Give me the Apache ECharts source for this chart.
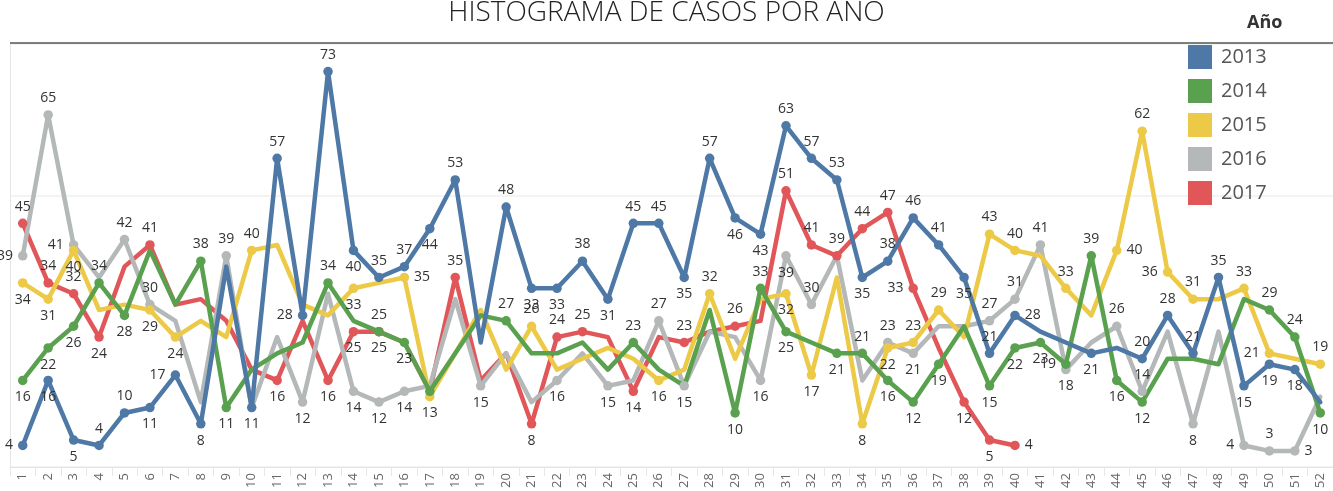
<!DOCTYPE html>
<html>
<head>
<meta charset="utf-8">
<script src="https://cdn.jsdelivr.net/npm/echarts@6/dist/echarts.min.js"></script>
<style>
  html, body { margin: 0; padding: 0; background: #fff; }
  #chart { width: 1333px; height: 491px; }
</style>
</head>
<body>
<div id="chart"></div>
<script>
// Semanas epidemiológicas (eje X)
const weeks = ['1','2','3','4','5','6','7','8','9','10','11','12','13','14','15','16','17','18','19','20',
  '21','22','23','24','25','26','27','28','29','30','31','32','33','34','35','36','37','38','39','40',
  '41','42','43','44','45','46','47','48','49','50','51','52'];

const years = ['2013', '2014', '2015', '2016', '2017'];

// Casos por semana y año
const cases2013 = [4,16,5,4,10,11,17,8,37,11,57,28,73,40,35,37,44,53,23,48,33,33,38,31,45,45,35,57,46,43,63,57,53,35,38,46,41,35,21,28,25,23,21,22,20,28,21,35,15,19,18,12];
const cases2014 = [16,22,26,34,28,40,30,38,11,18,21,23,34,27,25,23,14,21,28,27,21,21,23,18,23,18,15,29,10,33,25,23,21,21,16,12,19,26,15,22,23,19,39,16,12,20,20,19,31,29,24,10];
const cases2015 = [34,31,40,29,30,29,24,27,24,40,41,30,28,33,34,35,13,21,29,18,26,18,20,22,20,16,18,32,20,31,32,17,35,8,22,23,29,24,43,40,39,33,28,40,62,36,31,31,33,21,20,19];
const cases2016 = [39,65,41,35,42,30,27,12,39,11,24,12,32,14,12,14,15,31,15,21,12,16,21,15,16,27,15,25,24,16,39,30,39,16,23,21,26,26,27,31,41,18,23,26,14,25,8,25,4,3,3,13];
const cases2017 = [45,34,32,24,37,41,30,31,27,18,16,27,16,25,25,23,14,35,16,21,8,24,25,24,14,24,23,25,26,27,51,41,39,44,47,33,22,12,5,4,null,null,null,null,null,null,null,null,null,null,null,null];

// Semanas etiquetadas y lado de la etiqueta: t arriba, b abajo, l izquierda, r derecha, n solo marcador
const labeled2013 = {1:'l',2:'b',3:'b',4:'t',5:'t',6:'b',7:'l',8:'b',10:'b',11:'t',12:'l',13:'t',14:'b',15:'t',16:'t',17:'b',18:'t',20:'t',21:'b',22:'b',23:'t',24:'b',25:'t',26:'t',27:'b',28:'t',29:'b',30:'b',31:'t',32:'t',33:'t',34:'b',35:'t',36:'t',37:'t',38:'b',39:'t',40:'r',43:'b',45:'t',46:'t',47:'t',48:'t',49:'b',50:'b',51:'b'};
const labeled2014 = {1:'b',2:'b',3:'b',4:'t',5:'b',8:'t',9:'b',13:'t',15:'t',16:'b',17:'n',20:'t',25:'t',29:'b',30:'t',31:'b',33:'b',34:'t',35:'b',36:'b',37:'b',39:'b',40:'b',41:'b',42:'l',43:'t',44:'b',45:'b',50:'t',51:'t',52:'b'};
const labeled2015 = {1:'b',2:'b',3:'b',6:'b',7:'b',10:'t',14:'b',16:'r',17:'b',21:'t',26:'b',28:'t',31:'b',32:'b',34:'b',35:'b',36:'t',37:'t',39:'t',40:'t',42:'t',44:'r',45:'t',46:'l',47:'t',49:'t',50:'l',52:'t'};
const labeled2016 = {1:'l',2:'t',3:'l',5:'t',6:'t',9:'t',12:'b',14:'b',15:'b',16:'b',19:'b',22:'b',24:'b',26:'t',27:'b',30:'b',31:'b',32:'t',35:'t',36:'b',39:'t',40:'t',41:'t',42:'b',44:'t',45:'t',47:'b',49:'l',50:'t',51:'r'};
const labeled2017 = {1:'t',2:'t',3:'t',4:'b',6:'t',11:'b',13:'b',14:'b',15:'b',18:'t',21:'b',22:'t',23:'t',25:'b',27:'t',29:'t',31:'t',32:'t',33:'t',34:'t',35:'t',36:'l',38:'b',39:'b',40:'r'};

const colors = {
  '2013': '#4e79a7',
  '2014': '#59a14f',
  '2015': '#edc948',
  '2016': '#b5b8b8',
  '2017': '#e15759'
};

const sideMap = { t: 'top', b: 'bottom', l: 'left', r: 'right' };

function buildPoints(values, labeled) {
  return values.map(function (v, i) {
    if (v === null) return null;
    const side = labeled[i + 1];
    if (!side) return { value: v, symbol: 'none' };
    if (side === 'n') return { value: v, label: { show: false } };
    return { value: v, label: { show: true, position: sideMap[side] } };
  });
}

function lineSeries(name, values, labeled) {
  return {
    name: name,
    type: 'line',
    data: buildPoints(values, labeled),
    symbol: 'circle',
    symbolSize: 9.5,
    showSymbol: true,
    showAllSymbol: true,
    connectNulls: false,
    lineStyle: { width: 4.5, color: colors[name], join: 'round', cap: 'round' },
    itemStyle: { color: colors[name], borderWidth: 0 },
    label: {
      show: false,
      formatter: '{c}',
      distance: 5,
      fontFamily: 'Open Sans',
      fontSize: 14,
      color: '#333'
    },
    emphasis: { disabled: true }
  };
}

const chart = echarts.init(document.getElementById('chart'), null, { renderer: 'canvas' });

chart.setOption({
  animation: false,
  backgroundColor: '#ffffff',
  grid: { left: 10, top: 43.4, width: 1333, height: 425, containLabel: false },
  xAxis: {
    type: 'category',
    data: weeks,
    boundaryGap: true,
    axisLine: { show: true, lineStyle: { color: '#e3e3e3', width: 1 } },
    axisTick: { show: true, interval: 0, length: 9, lineStyle: { color: '#e8e8e8' } },
    axisLabel: {
      interval: 0,
      rotate: 90,
      margin: 6,
      fontFamily: 'Open Sans',
      fontSize: 13,
      color: '#666'
    },
    splitLine: { show: false }
  },
  yAxis: {
    type: 'value',
    min: 0,
    max: 78.2,
    interval: 50,
    axisLine: { show: true, lineStyle: { color: '#e6e6e6' } },
    axisTick: { show: false },
    axisLabel: { show: false },
    splitLine: { show: true, lineStyle: { color: '#efefef', width: 1.5 } }
  },
  legend: {
    data: years,
    orient: 'vertical',
    left: 1183,
    top: 40,
    icon: 'rect',
    itemWidth: 24,
    itemHeight: 24,
    itemGap: 10,
    selectedMode: false,
    itemStyle: { borderWidth: 0 },
    textStyle: { fontFamily: 'Open Sans', fontSize: 20, color: '#555', padding: [0, 0, 0, 4] }
  },
  graphic: [
    {
      type: 'text',
      left: 'center',
      top: -1,
      silent: true,
      style: {
        text: 'HISTOGRAMA DE CASOS POR AÑO',
        fontFamily: 'Open Sans',
        fontWeight: 300,
        fontSize: 28,
        fill: '#222'
      }
    },
    {
      type: 'line',
      silent: true,
      z: 5,
      shape: { x1: 10, y1: 43, x2: 1333, y2: 43 },
      style: { stroke: '#555', lineWidth: 1.5 }
    },
    {
      type: 'text',
      left: 1247,
      top: 14,
      silent: true,
      style: {
        text: 'Año',
        fontFamily: 'Open Sans',
        fontWeight: 'bold',
        fontSize: 18,
        fill: '#333'
      }
    }
  ],
  // Orden de dibujo: 2013 queda encima del resto
  series: [
    lineSeries('2017', cases2017, labeled2017),
    lineSeries('2016', cases2016, labeled2016),
    lineSeries('2015', cases2015, labeled2015),
    lineSeries('2014', cases2014, labeled2014),
    lineSeries('2013', cases2013, labeled2013)
  ]
});
</script>
</body>
</html>
